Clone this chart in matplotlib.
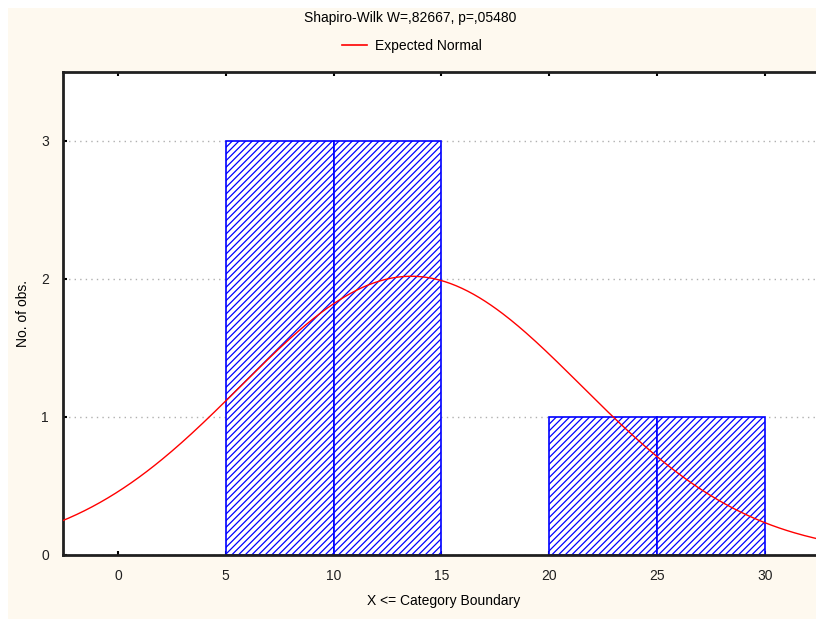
import numpy as np
import matplotlib.pyplot as plt
from matplotlib.patches import Rectangle
from matplotlib.lines import Line2D

plt.rcParams['font.family'] = ['Liberation Sans', 'DejaVu Sans']
plt.rcParams['hatch.linewidth'] = 0.9
plt.rcParams['hatch.color'] = '#0000ff'

# histogram data (bin edges, counts)
bin_edges = [5, 10, 15, 20, 25, 30]
counts = [3, 3, 0, 1, 1]
n_obs = 8
# expected normal parameters
mean_x = 13.6
sd_x = 7.9
x_ticks = [0, 5, 10, 15, 20, 25, 30]
y_ticks = [0, 1, 2, 3]
title = 'Shapiro-Wilk W=,82667, p=,05480'

fig = plt.figure(figsize=(8.16, 6.19), dpi=100, facecolor='white')
fig.patches.append(Rectangle((8 / 816, 0), 1, 1 - 8 / 619, transform=fig.transFigure,
                             facecolor='#fef9ef', edgecolor='none', zorder=-10))
ax = fig.add_axes([63 / 816, 64 / 619, 1 - 63 / 816 + 0.01, (555 - 72) / 619])
ax.set_facecolor('white')

bw = bin_edges[1] - bin_edges[0]
for left, right, c in zip(bin_edges[:-1], bin_edges[1:], counts):
    if c > 0:
        ax.bar(left, c, width=right - left, align='edge', facecolor='white',
               edgecolor='#0000ff', linewidth=1.2, hatch='/////', zorder=2)

xs = np.linspace(-3, 33, 400)
ys = n_obs * bw * np.exp(-0.5 * ((xs - mean_x) / sd_x) ** 2) / (sd_x * np.sqrt(2 * np.pi))
ax.plot(xs, ys, color='#ff0000', linewidth=1.0, zorder=3)

ax.set_xlim(-2.55, 32.75)
ax.set_ylim(0, 3.5)
ax.set_xticks(x_ticks)
ax.set_yticks(y_ticks)
ax.tick_params(direction='in', length=3, width=1.5, labelsize=10, pad=10,
               top=True, colors='black', labelcolor='#202020')
ax.grid(axis='y', linestyle=(0, (1, 3)), color='#b0b0b0', linewidth=1.0, zorder=1)
for s in ['left', 'bottom', 'top']:
    ax.spines[s].set_linewidth(2)
    ax.spines[s].set_color('#202020')
ax.spines['right'].set_visible(False)

ax.set_xlabel('X <= Category Boundary', fontsize=10, labelpad=8)
ax.set_ylabel('No. of obs.', fontsize=10, labelpad=8)

fig.text(410 / 816, 1 - 18 / 619, title, ha='center', va='center', fontsize=10)
fig.legend(handles=[Line2D([], [], color='#ff0000', linewidth=1.2, label='Expected Normal')],
           loc='center', bbox_to_anchor=(412 / 816, 1 - 46 / 619), frameon=False,
           fontsize=10, handlelength=1.8, handletextpad=0.6)

fig.savefig('out.png', dpi=100)
